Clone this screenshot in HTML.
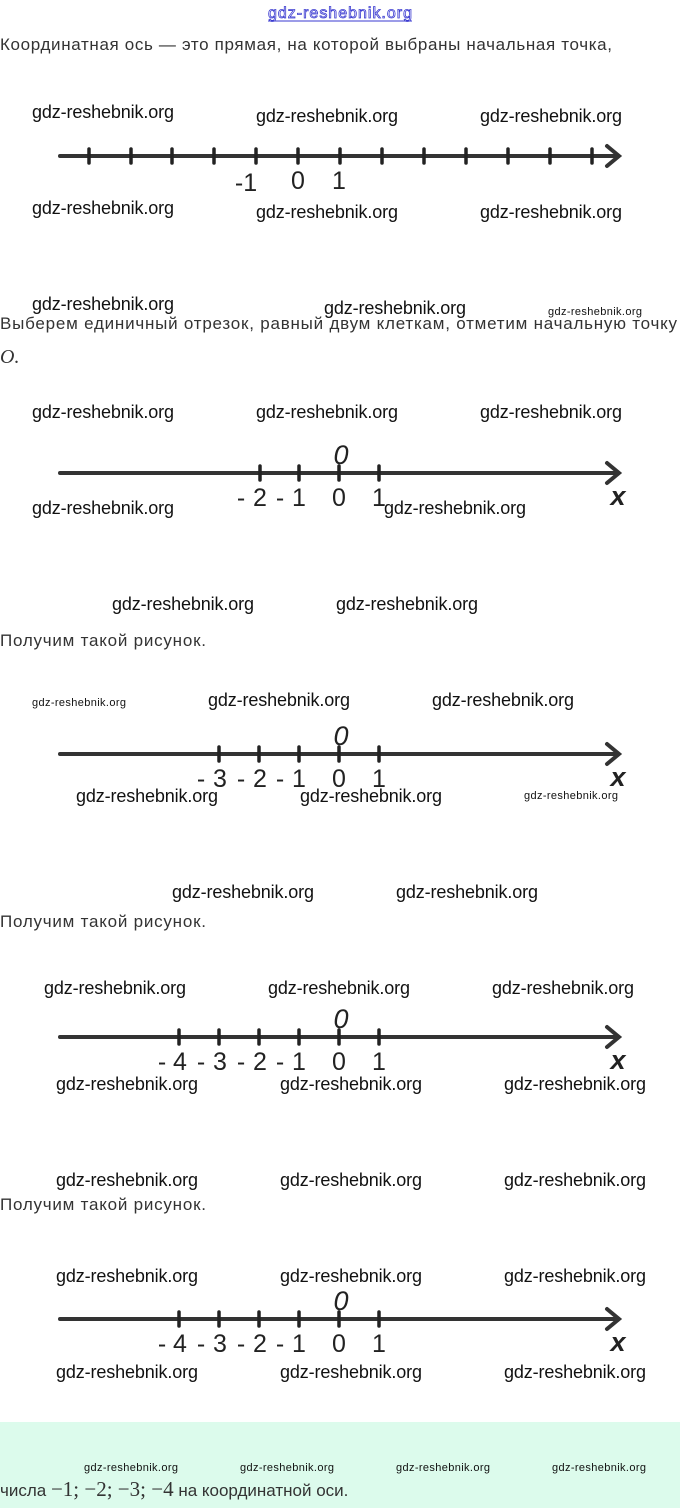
<!DOCTYPE html>
<html><head><meta charset="utf-8"><style>
html,body{margin:0;padding:0;background:#fff}
svg{display:block}
.w{font-family:"Liberation Sans",sans-serif;font-size:18px;fill:#111}
.ws{font-family:"Liberation Sans",sans-serif;font-size:11px;fill:#111}
.t{font-family:"Liberation Sans",sans-serif;font-size:17px;fill:#333}
.n{font-family:"Liberation Sans",sans-serif;font-size:25px;fill:#222;text-anchor:middle}
.z{font-family:"Liberation Sans",sans-serif;font-size:27px;font-style:italic;fill:#222;text-anchor:middle}
.x{font-family:"Liberation Sans",sans-serif;font-size:27px;font-style:italic;font-weight:bold;fill:#222;text-anchor:middle}
</style></head><body>
<svg width="680" height="1508" viewBox="0 0 680 1508" xmlns="http://www.w3.org/2000/svg">
<rect x="0" y="1422" width="680" height="86" fill="#dcfbec"/>
<text x="268" y="18" font-family="Liberation Sans,sans-serif" font-size="16" fill="#fff" stroke="#3a3ad0" stroke-width="0.8" textLength="144">gdz-reshebnik.org</text>
<line x1="268" y1="21" x2="412" y2="21" stroke="#3a3ad0" stroke-width="1"/>

<text class="t" x="0" y="50" textLength="612">Координатная ось — это прямая, на которой выбраны начальная точка,</text>
<text class="t" x="0" y="329" textLength="677">Выберем единичный отрезок, равный двум клеткам, отметим начальную точку</text>
<text x="0" y="363" font-family="Liberation Serif,serif" font-style="italic" font-size="20" fill="#333">O.</text>
<text class="t" x="0" y="646" textLength="206">Получим такой рисунок.</text>
<text class="t" x="0" y="927" textLength="206">Получим такой рисунок.</text>
<text class="t" x="0" y="1210" textLength="206">Получим такой рисунок.</text>
<text class="t" x="0" y="1496">числа <tspan font-family="Liberation Serif,serif" font-size="21">−1;  −2;  −3;  −4</tspan> на координатной оси.</text>

<g stroke="#333" stroke-width="4" fill="none" stroke-linecap="round">
<line x1="60" y1="156" x2="616" y2="156"/><polyline points="607,146 619,156 607,166"/>
<line x1="60" y1="473" x2="616" y2="473"/><polyline points="607,463 619,473 607,483"/>
<line x1="60" y1="754" x2="616" y2="754"/><polyline points="607,744 619,754 607,764"/>
<line x1="60" y1="1037" x2="616" y2="1037"/><polyline points="607,1027 619,1037 607,1047"/>
<line x1="60" y1="1319" x2="616" y2="1319"/><polyline points="607,1309 619,1319 607,1329"/>
</g>
<g stroke="#222" stroke-width="3.5" stroke-linecap="round">
<line x1="89" y1="149" x2="89" y2="163"/><line x1="131" y1="149" x2="131" y2="163"/><line x1="172" y1="149" x2="172" y2="163"/><line x1="214" y1="149" x2="214" y2="163"/><line x1="256" y1="149" x2="256" y2="163"/><line x1="298" y1="149" x2="298" y2="163"/><line x1="340" y1="149" x2="340" y2="163"/><line x1="382" y1="149" x2="382" y2="163"/><line x1="424" y1="149" x2="424" y2="163"/><line x1="466" y1="149" x2="466" y2="163"/><line x1="508" y1="149" x2="508" y2="163"/><line x1="550" y1="149" x2="550" y2="163"/><line x1="592" y1="149" x2="592" y2="163"/>
<line x1="260" y1="466" x2="260" y2="480"/><line x1="299" y1="466" x2="299" y2="480"/><line x1="339" y1="466" x2="339" y2="480"/><line x1="379" y1="466" x2="379" y2="480"/>
<line x1="219" y1="747" x2="219" y2="761"/><line x1="259" y1="747" x2="259" y2="761"/><line x1="299" y1="747" x2="299" y2="761"/><line x1="339" y1="747" x2="339" y2="761"/><line x1="379" y1="747" x2="379" y2="761"/>
<line x1="179" y1="1030" x2="179" y2="1044"/><line x1="219" y1="1030" x2="219" y2="1044"/><line x1="259" y1="1030" x2="259" y2="1044"/><line x1="299" y1="1030" x2="299" y2="1044"/><line x1="339" y1="1030" x2="339" y2="1044"/><line x1="379" y1="1030" x2="379" y2="1044"/>
<line x1="179" y1="1312" x2="179" y2="1326"/><line x1="219" y1="1312" x2="219" y2="1326"/><line x1="259" y1="1312" x2="259" y2="1326"/><line x1="299" y1="1312" x2="299" y2="1326"/><line x1="339" y1="1312" x2="339" y2="1326"/><line x1="379" y1="1312" x2="379" y2="1326"/>
</g>

<text class="n" x="246" y="191">-1</text><text class="n" x="298" y="189">0</text><text class="n" x="339" y="189">1</text>

<text class="n" x="241" y="506">-</text><text class="n" x="260" y="506">2</text><text class="n" x="280" y="506">-</text><text class="n" x="299" y="506">1</text><text class="n" x="339" y="506">0</text><text class="n" x="379" y="506">1</text>
<text class="z" x="341" y="464">0</text><text class="x" x="618" y="505">x</text>

<text class="n" x="201" y="787">-</text><text class="n" x="220" y="787">3</text><text class="n" x="241" y="787">-</text><text class="n" x="260" y="787">2</text><text class="n" x="280" y="787">-</text><text class="n" x="299" y="787">1</text><text class="n" x="339" y="787">0</text><text class="n" x="379" y="787">1</text>
<text class="z" x="341" y="745">0</text><text class="x" x="618" y="786">x</text>

<text class="n" x="162" y="1070">-</text><text class="n" x="180" y="1070">4</text><text class="n" x="201" y="1070">-</text><text class="n" x="220" y="1070">3</text><text class="n" x="241" y="1070">-</text><text class="n" x="260" y="1070">2</text><text class="n" x="280" y="1070">-</text><text class="n" x="299" y="1070">1</text><text class="n" x="339" y="1070">0</text><text class="n" x="379" y="1070">1</text>
<text class="z" x="341" y="1028">0</text><text class="x" x="618" y="1069">x</text>

<text class="n" x="162" y="1352">-</text><text class="n" x="180" y="1352">4</text><text class="n" x="201" y="1352">-</text><text class="n" x="220" y="1352">3</text><text class="n" x="241" y="1352">-</text><text class="n" x="260" y="1352">2</text><text class="n" x="280" y="1352">-</text><text class="n" x="299" y="1352">1</text><text class="n" x="339" y="1352">0</text><text class="n" x="379" y="1352">1</text>
<text class="z" x="341" y="1310">0</text><text class="x" x="618" y="1351">x</text>

<g>
<text class="w" x="32" y="118" textLength="142">gdz-reshebnik.org</text><text class="w" x="256" y="122" textLength="142">gdz-reshebnik.org</text><text class="w" x="480" y="122" textLength="142">gdz-reshebnik.org</text>
<text class="w" x="32" y="214" textLength="142">gdz-reshebnik.org</text><text class="w" x="256" y="218" textLength="142">gdz-reshebnik.org</text><text class="w" x="480" y="218" textLength="142">gdz-reshebnik.org</text>
<text class="w" x="32" y="310" textLength="142">gdz-reshebnik.org</text><text class="w" x="324" y="314" textLength="142">gdz-reshebnik.org</text>
<text class="w" x="32" y="418" textLength="142">gdz-reshebnik.org</text><text class="w" x="256" y="418" textLength="142">gdz-reshebnik.org</text><text class="w" x="480" y="418" textLength="142">gdz-reshebnik.org</text>
<text class="w" x="32" y="514" textLength="142">gdz-reshebnik.org</text><text class="w" x="384" y="514" textLength="142">gdz-reshebnik.org</text>
<text class="w" x="112" y="610" textLength="142">gdz-reshebnik.org</text><text class="w" x="336" y="610" textLength="142">gdz-reshebnik.org</text>
<text class="w" x="208" y="706" textLength="142">gdz-reshebnik.org</text><text class="w" x="432" y="706" textLength="142">gdz-reshebnik.org</text>
<text class="w" x="76" y="802" textLength="142">gdz-reshebnik.org</text><text class="w" x="300" y="802" textLength="142">gdz-reshebnik.org</text>
<text class="w" x="172" y="898" textLength="142">gdz-reshebnik.org</text><text class="w" x="396" y="898" textLength="142">gdz-reshebnik.org</text>
<text class="w" x="44" y="994" textLength="142">gdz-reshebnik.org</text><text class="w" x="268" y="994" textLength="142">gdz-reshebnik.org</text><text class="w" x="492" y="994" textLength="142">gdz-reshebnik.org</text>
<text class="w" x="56" y="1090" textLength="142">gdz-reshebnik.org</text><text class="w" x="280" y="1090" textLength="142">gdz-reshebnik.org</text><text class="w" x="504" y="1090" textLength="142">gdz-reshebnik.org</text>
<text class="w" x="56" y="1186" textLength="142">gdz-reshebnik.org</text><text class="w" x="280" y="1186" textLength="142">gdz-reshebnik.org</text><text class="w" x="504" y="1186" textLength="142">gdz-reshebnik.org</text>
<text class="w" x="56" y="1282" textLength="142">gdz-reshebnik.org</text><text class="w" x="280" y="1282" textLength="142">gdz-reshebnik.org</text><text class="w" x="504" y="1282" textLength="142">gdz-reshebnik.org</text>
<text class="w" x="56" y="1378" textLength="142">gdz-reshebnik.org</text><text class="w" x="280" y="1378" textLength="142">gdz-reshebnik.org</text><text class="w" x="504" y="1378" textLength="142">gdz-reshebnik.org</text>
</g>
<text class="ws" x="548" y="315" textLength="94">gdz-reshebnik.org</text>
<text class="ws" x="32" y="706" textLength="94">gdz-reshebnik.org</text>
<text class="ws" x="524" y="799" textLength="94">gdz-reshebnik.org</text>
<text class="ws" x="84" y="1471" textLength="94">gdz-reshebnik.org</text><text class="ws" x="240" y="1471" textLength="94">gdz-reshebnik.org</text><text class="ws" x="396" y="1471" textLength="94">gdz-reshebnik.org</text><text class="ws" x="552" y="1471" textLength="94">gdz-reshebnik.org</text>
</svg>
</body></html>
